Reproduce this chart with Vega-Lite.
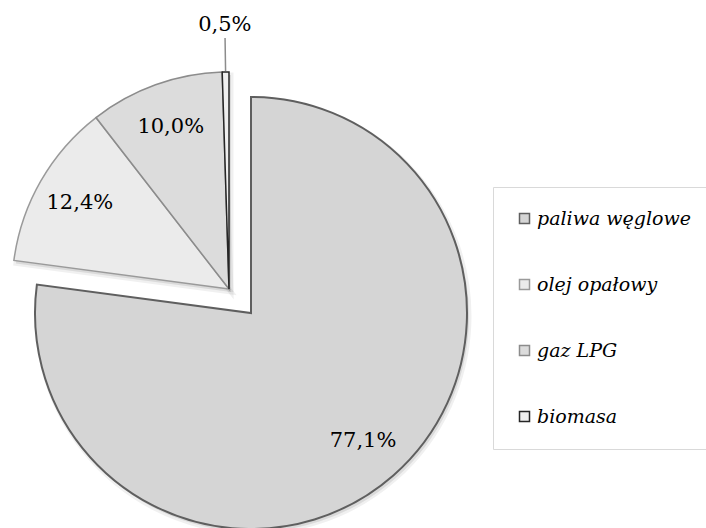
{
  "$schema": "https://vega.github.io/schema/vega-lite/v6.json",
  "width": 458,
  "height": 478,
  "autosize": {"type": "none"},
  "padding": {"left": 0, "top": 50, "right": 248, "bottom": 0},
  "background": "white",
  "config": {"view": {"stroke": null}},
  "data": {
    "values": [
      {"source": "paliwa węglowe", "value": 77.1, "label": "77,1%", "order": 1},
      {"source": "olej opałowy", "value": 12.4, "label": "12,4%", "order": 2},
      {"source": "gaz LPG", "value": 10.0, "label": "10,0%", "order": 3},
      {"source": "biomasa", "value": 0.5, "label": "0,5%", "order": 4}
    ]
  },
  "encoding": {
    "theta": {"field": "value", "type": "quantitative", "stack": true},
    "order": {"field": "order", "type": "quantitative"}
  },
  "layer": [
    {
      "mark": {"type": "arc", "outerRadius": 217, "fill": "#000000", "fillOpacity": 0.09, "stroke": "#000000", "strokeOpacity": 0.06, "strokeWidth": 5, "xOffset": 2, "yOffset": 3},
      "encoding": {
        "opacity": {"condition": {"test": "datum.source === 'paliwa węglowe'", "value": 0}, "value": 1}
      }
    },
    {
      "mark": {"type": "arc", "outerRadius": 216, "fill": "#000000", "fillOpacity": 0.09, "stroke": "#000000", "strokeOpacity": 0.06, "strokeWidth": 5, "xOffset": 24, "yOffset": 27},
      "encoding": {
        "opacity": {"condition": {"test": "datum.source === 'paliwa węglowe'", "value": 1}, "value": 0}
      }
    },
    {
      "mark": {"type": "arc", "outerRadius": 217, "strokeWidth": 1.5},
      "encoding": {
        "color": {
          "field": "source", "type": "nominal",
          "scale": {"domain": ["paliwa węglowe", "olej opałowy", "gaz LPG", "biomasa"], "range": ["#d5d5d5", "#ebebeb", "#dcdcdc", "#efefef"]},
          "legend": {"title": null, "orient": "none", "legendX": 493, "legendY": 137, "labelFont": "DejaVu Serif", "labelFontStyle": "italic", "labelFontSize": 19, "labelColor": "#000000", "symbolType": "square", "symbolSize": 100, "symbolStrokeWidth": 1.5, "rowPadding": 46, "padding": 22, "strokeColor": "#d9d9d9", "labelOffset": 3}
        },
        "stroke": {
          "field": "source", "type": "nominal",
          "scale": {"domain": ["paliwa węglowe", "olej opałowy", "gaz LPG", "biomasa"], "range": ["#5f5f5f", "#9a9a9a", "#8c8c8c", "#262626"]},
          "legend": {"title": null, "orient": "none", "legendX": 493, "legendY": 137, "labelFont": "DejaVu Serif", "labelFontStyle": "italic", "labelFontSize": 19, "labelColor": "#000000", "symbolType": "square", "symbolSize": 100, "symbolStrokeWidth": 1.5, "rowPadding": 46, "padding": 22, "strokeColor": "#d9d9d9", "labelOffset": 3}
        },
        "opacity": {"condition": {"test": "datum.source === 'paliwa węglowe'", "value": 0}, "value": 1}
      }
    },
    {
      "mark": {"type": "arc", "outerRadius": 216, "strokeWidth": 2, "xOffset": 22, "yOffset": 24},
      "encoding": {
        "color": {"field": "source", "type": "nominal"},
        "stroke": {"field": "source", "type": "nominal"},
        "opacity": {"condition": {"test": "datum.source === 'paliwa węglowe'", "value": 1}, "value": 0}
      }
    },
    {
      "mark": {"type": "arc", "innerRadius": 218, "outerRadius": 251, "padAngle": 0.3, "fill": null, "fillOpacity": 0, "stroke": "#8c8c8c", "strokeWidth": 1.5},
      "encoding": {
        "strokeOpacity": {"condition": {"test": "datum.source === 'biomasa'", "value": 1}, "value": 0}
      }
    },
    {
      "mark": {"type": "text", "radius": 172, "font": "DejaVu Serif", "fontSize": 21, "color": "#000000"},
      "encoding": {
        "text": {"condition": {"test": "datum.source === 'olej opałowy' || datum.source === 'gaz LPG'", "field": "label", "type": "nominal"}, "value": ""}
      }
    },
    {
      "mark": {"type": "text", "radius": 170, "font": "DejaVu Serif", "fontSize": 21, "color": "#000000", "dx": 22, "dy": 24},
      "encoding": {
        "text": {"condition": {"test": "datum.source === 'paliwa węglowe'", "field": "label", "type": "nominal"}, "value": ""}
      }
    },
    {
      "mark": {"type": "text", "radius": 264, "font": "DejaVu Serif", "fontSize": 21, "color": "#000000"},
      "encoding": {
        "text": {"condition": {"test": "datum.source === 'biomasa'", "field": "label", "type": "nominal"}, "value": ""}
      }
    }
  ]
}
